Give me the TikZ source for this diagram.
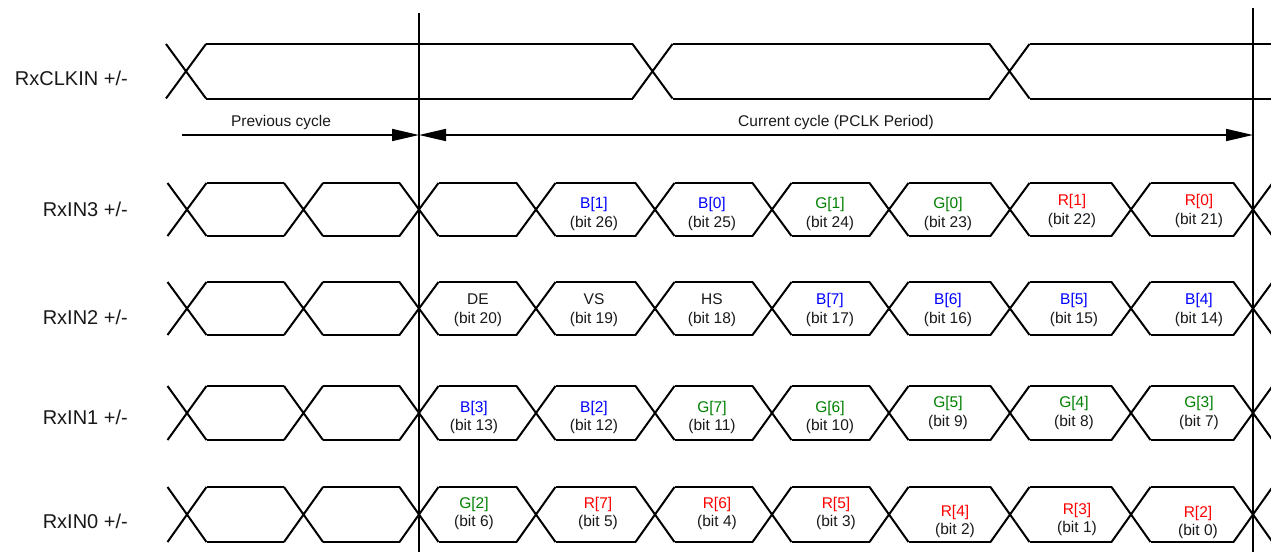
\documentclass[tikz,border=0pt]{standalone}
\usepackage{fontspec}
\setmainfont{Liberation Sans}
\usetikzlibrary{arrows.meta}
\definecolor{cb}{RGB}{0,0,255}
\definecolor{cg}{RGB}{0,128,0}
\definecolor{cr}{RGB}{255,0,0}
\definecolor{ct}{RGB}{25,25,25}
\newcommand\mydatarow[2]{%
  \foreach \c in {187,303.5,419,536,655,772,889,1010,1131,1253}{
    \draw[sig] (\c-19.5,#1) -- (\c+19.5,#2) (\c-19.5,#2) -- (\c+19.5,#1);
  }
  \foreach \a/\b in {187/303.5,303.5/419,419/536,536/655,655/772,772/889,889/1010,1010/1131,1131/1253}{
    \draw[sig] (\a+19.5,#1) -- (\b-19.5,#1) (\a+19.5,#2) -- (\b-19.5,#2);
  }
}
\begin{document}
\begin{tikzpicture}[x=1pt,y=-1pt,
  sig/.style={line width=2pt, line cap=butt},
  vline/.style={line width=2.2pt},
  lbl/.style={anchor=base east, inner sep=0pt, font=\fontsize{20}{24}\selectfont, text=ct},
  ctxt/.style={anchor=base, inner sep=0pt, font=\fontsize{15.5}{18}\selectfont},
  dimarrow/.style={line width=1.7pt, -{Triangle[length=27pt,width=12pt]}},
  dimboth/.style={line width=1.7pt, {Triangle[length=27pt,width=12pt]}-{Triangle[length=27pt,width=12pt]}},
]
\useasboundingbox (0,0) rectangle (1271,552);

% clock
\foreach \c in {186,652.5,1009.5}{
  \draw[sig] (\c-20,44) -- (\c+20,98.5) (\c-20,98.5) -- (\c+20,44);
}
\foreach \a/\b in {186/652.5,652.5/1009.5,1009.5/1291}{
  \draw[sig] (\a+20,44) -- (\b-20,44) (\a+20,98.5) -- (\b-20,98.5);
}

% data rows
\mydatarow{183}{236}
\mydatarow{282}{335}
\mydatarow{386}{440}
\mydatarow{487}{542}

% cycle boundaries
\coordinate (v1t) at (419,13);
\coordinate (v1b) at (419,552);
\coordinate (v2t) at (1253,8);
\coordinate (v2b) at (1253,552);
\draw[vline] (v1t) -- (v1b);
\draw[vline] (v2t) -- (v2b);

% cycle arrows
\coordinate (pc0) at (182,135);
\coordinate (pc1) at (419,135);
\coordinate (cc0) at (419,135);
\coordinate (cc1) at (1253,135);
\draw[dimarrow] (pc0) -- (pc1);
\draw[dimboth] (cc0) -- (cc1);
\node[ctxt, text=ct] (prevlbl) at (281,126) {Previous cycle};
\node[ctxt, text=ct] (currlbl) at (836,126) {Current cycle (PCLK Period)};

% signal labels
\node[lbl] (lclk) at (128,85) {RxCLKIN +/-};
\node[lbl] (l3) at (128,216) {RxIN3 +/-};
\node[lbl] (l2) at (128,324) {RxIN2 +/-};
\node[lbl] (l1) at (128,424) {RxIN1 +/-};
\node[lbl] (l0) at (128,528) {RxIN0 +/-};

% cell texts: x / y1 / y2 / colour / name / bit
\foreach \x/\ya/\yb/\col/\nm/\bt [count=\i] in {
  594/208/227/cb/B[1]/26, 712/208/227/cb/B[0]/25, 830/208/227/cg/G[1]/24,
  948/208/227/cg/G[0]/23, 1072/205.5/224/cr/R[1]/22, 1199/205.5/224/cr/R[0]/21,
  478/304/323/ct/DE/20, 594/304/323/ct/VS/19, 712/304/323/ct/HS/18,
  830/304/323/cb/B[7]/17, 948/304/323/cb/B[6]/16, 1074/304/323/cb/B[5]/15,
  1199/304/323/cb/B[4]/14,
  474/412/430/cb/B[3]/13, 594/412/430/cb/B[2]/12, 712/412/430/cg/G[7]/11,
  830/412/430/cg/G[6]/10, 948/407/426/cg/G[5]/9, 1074/407/426/cg/G[4]/8,
  1199/407/426/cg/G[3]/7,
  474/508/526/cg/G[2]/6, 598/508/526/cr/R[7]/5, 717/508/526/cr/R[6]/4,
  836/508/526/cr/R[5]/3, 955/516/534/cr/R[4]/2, 1077/514/532/cr/R[3]/1,
  1198/517/535/cr/R[2]/0}{
  \node[ctxt, text=\col] (n\i) at (\x,\ya) {\nm};
  \node[ctxt, text=ct] (b\i) at (\x,\yb) {(bit \bt)};
}
\end{tikzpicture}
\end{document}
